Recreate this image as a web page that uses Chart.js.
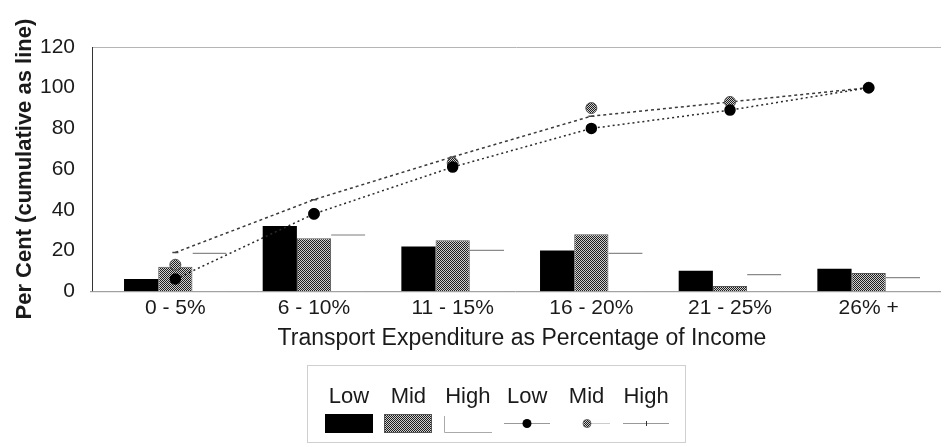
<!DOCTYPE html>
<html>
<head>
<meta charset="utf-8">
<script src="https://cdn.jsdelivr.net/npm/chart.js@4.4.1/dist/chart.umd.min.js"></script>
<style>
  body { margin: 0; background: #fff; }
  #wrap { position: relative; width: 946px; height: 447px; }
  #legend {
    position: absolute; left: 307px; top: 365px; width: 379px; height: 78px;
    border: 1px solid #cfcfcf; box-sizing: border-box;
    font-family: "Liberation Sans", Arial, sans-serif; font-size: 22px; color: #1a1a1a;
  }
  .lab { position: absolute; top: 17px; width: 60px; text-align: center; line-height: 26px; }
  .sw { position: absolute; top: 47px; }
</style>
</head>
<body>
<div id="wrap">
  <canvas id="chart" width="946" height="447"></canvas>
  <div id="legend"></div>
</div>
<script>
const categories = ['0 - 5%', '6 - 10%', '11 - 15%', '16 - 20%', '21 - 25%', '26% +'];
const seriesNames = ['Low', 'Mid', 'High'];
// share of households in each band (bars)
const lowShare  = [6, 32, 22, 20, 10, 11];
const midShare  = [12, 26, 25, 28, 2.5, 9];
const highShare = [19, 28, 20.5, 19, 8.5, 7];
// cumulative per cent (lines)
const lowCum  = [6, 38, 61, 80, 89, 100];
const midCum  = [13, 38, 63, 90, 93, 100];
const highCum = [19, 45, 66, 86, 93, 100];
const yTicks = [0, 20, 40, 60, 80, 100, 120];

const FONT = '"Liberation Sans", Arial, sans-serif';

function stipple() {
  const c = document.createElement('canvas');
  c.width = 2; c.height = 2;
  const g = c.getContext('2d');
  g.fillStyle = '#cfcfcf'; g.fillRect(0, 0, 2, 2);
  g.fillStyle = '#1e1e1e'; g.fillRect(0, 0, 1, 1); g.fillRect(1, 1, 1, 1);
  return g.createPattern(c, 'repeat');
}
const ctx = document.getElementById('chart').getContext('2d');
const midFill = stipple();

// axis frame: left axis sits a little left of the first category
const frame = {
  id: 'frame',
  beforeDatasetsDraw(chart) {
    const { ctx, chartArea: a } = chart;
    const x0 = a.left - 14;
    ctx.save();
    ctx.lineWidth = 1;
    ctx.strokeStyle = '#b5b5b5';
    ctx.beginPath();
    ctx.moveTo(x0, a.top + 0.5); ctx.lineTo(a.right + 3, a.top + 0.5);
    ctx.stroke();
    ctx.strokeStyle = '#8a8a8a';
    ctx.beginPath();
    ctx.moveTo(x0 - 2, a.bottom + 0.5); ctx.lineTo(a.right + 3, a.bottom + 0.5);
    ctx.stroke();
    ctx.strokeStyle = '#333';
    ctx.beginPath();
    ctx.moveTo(x0 + 0.5, a.top); ctx.lineTo(x0 + 0.5, a.bottom);
    ctx.stroke();
    ctx.restore();
  }
};

new Chart(ctx, {
  type: 'bar',
  data: {
    labels: categories,
    datasets: [
      { type: 'line', label: 'Low', data: lowCum, order: 0,
        borderColor: '#2a2a2a', borderWidth: 1.5, borderDash: [2, 3],
        pointRadius: 5, pointBackgroundColor: '#000', pointBorderColor: '#000' },
      { type: 'line', label: 'Mid', data: midCum, order: 0, showLine: false,
        pointRadius: 5.5, pointBackgroundColor: midFill, pointBorderColor: '#555', pointBorderWidth: 1 },
      { type: 'line', label: 'High', data: highCum, order: 0,
        borderColor: '#3a3a3a', borderWidth: 1.5, borderDash: [3, 3],
        pointStyle: 'line', pointRadius: 3, pointBorderColor: '#444' },
      { label: 'Low', data: lowShare, order: 1, backgroundColor: '#000' },
      { label: 'Mid', data: midShare, order: 1, backgroundColor: midFill,
        borderColor: '#555', borderWidth: 1 },
      { label: 'High', data: highShare, order: 1, backgroundColor: '#fff',
        borderColor: '#8a8a8a', borderWidth: { top: 1.5, left: 0, right: 0, bottom: 0 } }
    ]
  },
  options: {
    responsive: false,
    animation: false,
    layout: { padding: { top: 47, right: 8, bottom: 95, left: 0 } },
    datasets: { bar: { categoryPercentage: 0.74, barPercentage: 1.0 } },
    plugins: { legend: { display: false }, tooltip: { enabled: false } },
    scales: {
      x: {
        grid: { display: false, drawTicks: false }, border: { display: false },
        ticks: { color: '#1a1a1a', font: { family: FONT, size: 21 }, padding: 4 },
        title: { display: true, text: 'Transport Expenditure as Percentage of Income',
                 color: '#1a1a1a', font: { family: FONT, size: 23 }, padding: { top: 0, bottom: 0 } }
      },
      y: {
        min: 0, max: 120,
        afterBuildTicks(scale) { scale.ticks = yTicks.map(v => ({ value: v })); },
        afterFit(scale) { scale.width = 106; },
        grid: { display: false }, border: { display: false },
        ticks: { color: '#1a1a1a', font: { family: FONT, size: 21 }, padding: 23 },
        title: { display: true, text: 'Per Cent (cumulative as line)', color: '#1a1a1a',
                 font: { family: FONT, size: 22, weight: 'bold' }, padding: { top: 12, bottom: 0 } }
      }
    }
  },
  plugins: [frame]
});

// legend: names above symbols, bars then lines
const legend = document.getElementById('legend');
const kinds = ['bar', 'bar', 'bar', 'line', 'line', 'line'];
kinds.forEach((kind, i) => {
  const cx = 41 + i * 59.4;
  const lab = document.createElement('div');
  lab.className = 'lab';
  lab.style.left = (cx - 30) + 'px';
  lab.textContent = seriesNames[i % 3];
  legend.appendChild(lab);
  const c = document.createElement('canvas');
  c.width = 50; c.height = 21; c.className = 'sw';
  c.style.left = (cx - 25) + 'px';
  legend.appendChild(c);
  const g = c.getContext('2d');
  const s = i % 3;
  if (kind === 'bar') {
    if (s === 0) { g.fillStyle = '#000'; g.fillRect(1, 1, 48, 19); }
    if (s === 1) { g.fillStyle = midFill; g.fillRect(1, 1, 48, 19); g.strokeStyle = '#555'; g.strokeRect(1.5, 1.5, 47, 18); }
    if (s === 2) { g.strokeStyle = '#aaa'; g.beginPath(); g.moveTo(1.5, 3); g.lineTo(1.5, 19.5); g.lineTo(49, 19.5); g.stroke(); }
  } else {
    g.strokeStyle = s === 1 ? '#ccc' : '#999'; g.lineWidth = 1;
    g.beginPath(); g.moveTo(s === 1 ? 28 : 2, 10.5); g.lineTo(48, 10.5); g.stroke();
    if (s === 0) { g.fillStyle = '#000'; g.beginPath(); g.arc(25, 10.5, 4.5, 0, Math.PI * 2); g.fill(); }
    if (s === 1) { g.fillStyle = midFill; g.beginPath(); g.arc(25, 10.5, 4, 0, Math.PI * 2); g.fill(); g.strokeStyle = '#666'; g.stroke(); }
    if (s === 2) { g.strokeStyle = '#333'; g.beginPath(); g.moveTo(25.5, 8); g.lineTo(25.5, 13); g.stroke(); }
  }
});
</script>
</body>
</html>
